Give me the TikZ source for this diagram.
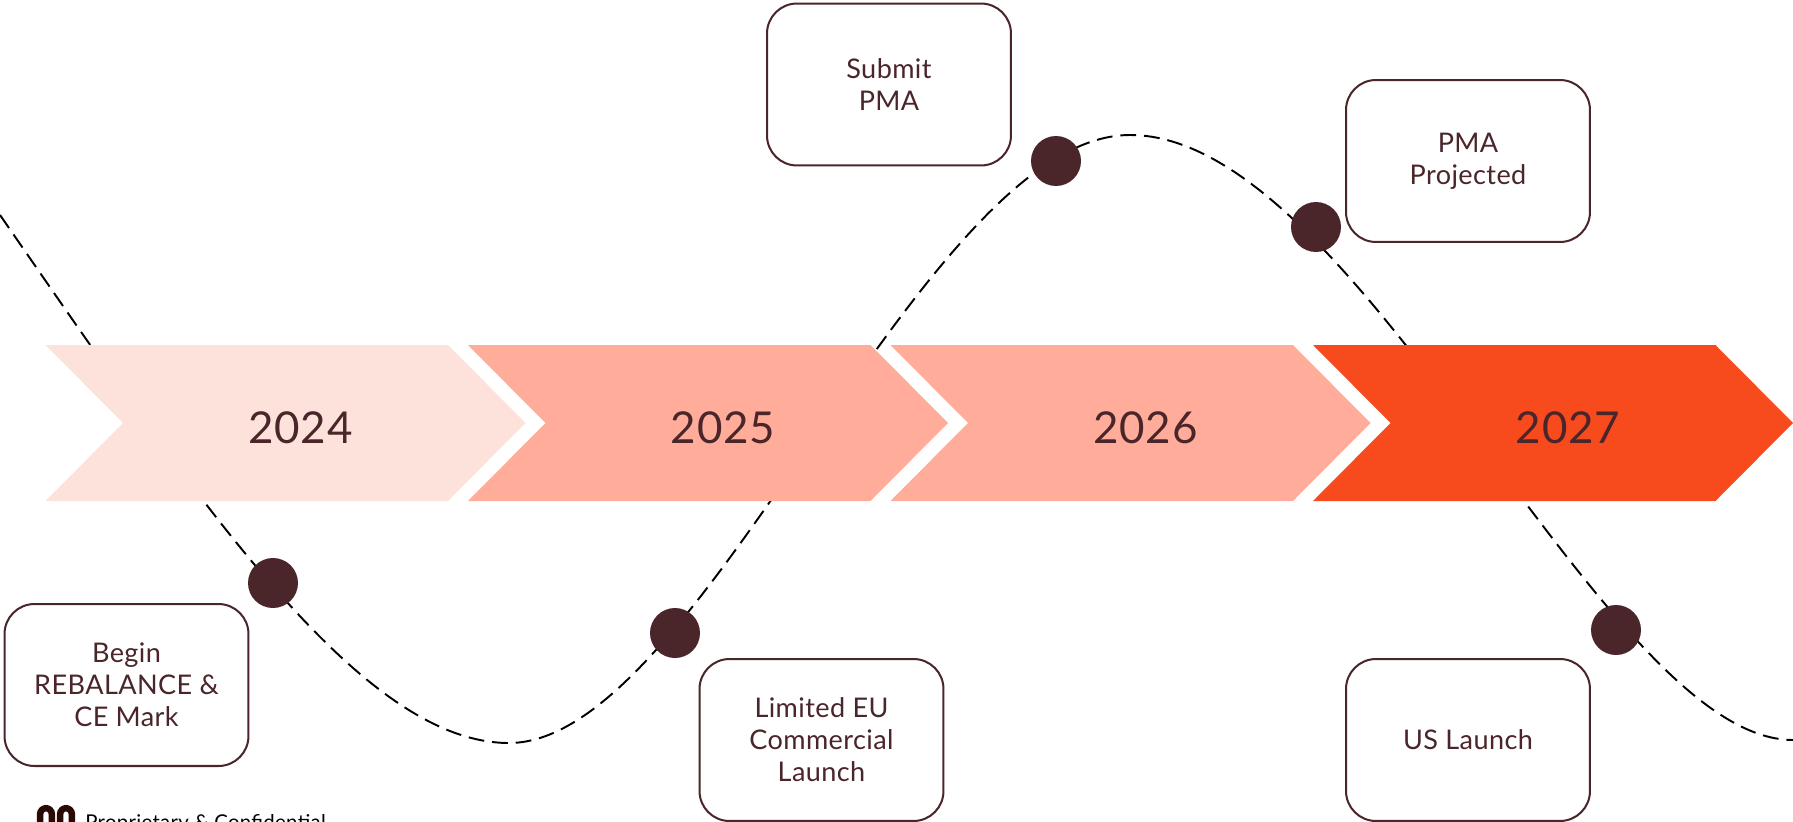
\documentclass[tikz,border=0pt]{standalone}
\usepackage{fontspec}
\setmainfont[LetterSpace=1.5]{Lato}
\newfontfamily\yearfont[LetterSpace=2]{Lato}
\definecolor{inkbrown}{HTML}{4A2529}
\definecolor{logobrown}{HTML}{2A0A05}
\definecolor{palepink}{HTML}{FDE2DC}
\definecolor{salmon}{HTML}{FFAD9A}
\definecolor{flame}{HTML}{F74B1D}
\tikzset{
    milestone/.style={draw=inkbrown, line width=1.15pt, rounded corners=0.6cm, minimum width=4.88cm, minimum height=3.24cm, align=center, text=inkbrown, font=\fontsize{15.4}{18.2}\selectfont},
    yearlabel/.style={text=inkbrown, inner sep=0pt, font=\yearfont\fontsize{25}{28}\selectfont},
    dot/.style={circle, fill=inkbrown, minimum size=1cm, inner sep=0pt},
    swing/.style={line width=1.1pt, dash pattern=on 9pt off 4.5pt},
}
\begin{document}
\begin{tikzpicture}[x=0.02cm, y=-0.02cm]
    \useasboundingbox (0,0) rectangle (1793,822);
    \coordinate (curvestart) at (0,215);
    \coordinate (curvelow) at (509,743);
    \coordinate (curvehigh) at (1130,135);
    \coordinate (curveend) at (1793,740);
    \draw[swing] (curvestart) .. controls +(194,280) and +(-150,0) .. (curvelow)
        .. controls +(192,0) and +(-208,0) .. (curvehigh)
        .. controls +(230,0) and +(-190,0) .. (curveend);
    \foreach \x/\yr/\col in {45.5/2024/palepink, 468/2025/salmon, 890.5/2026/salmon, 1313/2027/flame} {
        \fill[\col] (\x,345) -- (\x+402.5,345) -- (\x+480,423) -- (\x+402.5,501) -- (\x,501) -- (\x+77.5,423) -- cycle;
        \node[yearlabel] (year\yr) at (\x+255,428) {\yr};
    }
    \node[dot] (dotbegin) at (273,583) {};
    \node[dot] (dotlimited) at (675,633) {};
    \node[dot] (dotsubmit) at (1056,161) {};
    \node[dot] (dotprojected) at (1316,227) {};
    \node[dot] (dotus) at (1616,630) {};
    \node[milestone] (begin) at (126.5,685) {Begin\\REBALANCE \&\\CE Mark};
    \node[milestone] (limited) at (821.5,740) {Limited EU\\Commercial\\Launch};
    \node[milestone] (submit) at (889,84.5) {Submit\\PMA};
    \node[milestone] (projected) at (1468,161) {PMA\\Projected};
    \node[milestone] (uslaunch) at (1468,740) {US Launch};
    \node[anchor=base west, inner sep=0pt, font=\fontsize{11.6}{13}\selectfont] (footer) at (85,829) {Proprietary \& Confidential};
    \foreach \x in {37,57} {
        \draw[logobrown, line width=3.7pt] (\x+3.2,830) -- (\x+3.2,814) arc[start angle=180, end angle=360, radius=5.8] -- (\x+14.8,830);
    }
\end{tikzpicture}
\end{document}
